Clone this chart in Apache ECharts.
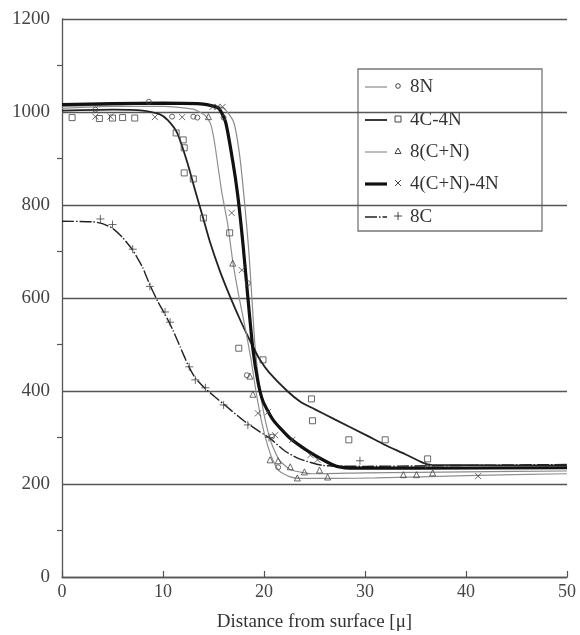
<!DOCTYPE html>
<html>
<head>
<meta charset="utf-8">
<script src="https://cdn.jsdelivr.net/npm/echarts@6/dist/echarts.min.js"></script>
<style>
  html, body { margin: 0; padding: 0; background: #fff; }
  #chart { width: 580px; height: 635px; }
</style>
</head>
<body>
<div id="chart"></div>
<script>
// Hardness profiles versus depth, fitted curves plus measured points
const xTicks = [0, 10, 20, 30, 40, 50];
const yTicks = [0, 200, 400, 600, 800, 1000, 1200];
const seriesNames = ['8N', '4C-4N', '8(C+N)', '4(C+N)-4N', '8C'];

const n8Curve = [[0,1012],[5,1015],[10,1018],[14,1016],[16,1008],[17,978],[17.6,905],[18.1,800],[18.5,700],[18.8,600],[19.1,500],[19.5,420],[20,350],[20.7,290],[21.5,252],[22.7,230],[25,222],[30,224],[40,226],[50,228]];
const n8Points = [[3.3,1005],[8.6,1022],[10.9,990],[13,990],[13.4,988],[16,988],[18.4,632],[18.3,434],[20.8,302],[21.4,236]];

const c4n4Curve = [[0,1003],[5,1005],[8,1003],[9.7,995],[10.5,982],[11.4,955],[12.4,892],[13.2,830],[14,770],[14.7,717],[15.6,660],[16.6,605],[17.7,550],[18.8,500],[19.6,467],[20.5,440],[22.3,400],[23.6,377],[25,361],[27,339],[30.2,304],[32,284],[34,264],[35.7,246],[36.6,241],[50,240]];
const c4n4Points = [[1,988],[3.7,986],[5,987],[6,988],[7.2,987],[11.3,955],[12,940],[12.1,923],[12.1,869],[13,856],[14,772],[16.6,740],[17.5,492],[19.9,467],[24.7,383],[24.8,336],[28.4,295],[32,295],[36.2,254]];

const cn8Curve = [[0,1008],[5,1012],[10,1012],[13,1006],[14.2,992],[14.7,975],[15.1,935],[15.8,830],[16.4,760],[16.9,680],[17.5,605],[18.1,540],[18.7,470],[19.2,400],[19.8,330],[20.4,280],[20.9,250],[21.5,228],[22.5,216],[23.6,212],[27.5,212],[31,213],[40,218],[50,222]];
const cn8Points = [[14.5,990],[16.9,675],[18.6,432],[18.9,393],[20.6,252],[21.4,250],[22.6,237],[23.3,213],[24,226],[25.5,230],[26.3,215],[33.8,220],[35.1,220],[36.7,224]];

const cn4n4Curve = [[0,1016],[5,1018],[10,1019],[14,1017],[15.5,1008],[16.2,978],[16.9,895],[17.4,821],[17.9,720],[18.4,602],[18.9,490],[19.4,420],[19.9,378],[20.9,338],[22.5,300],[24.2,273],[26,250],[27.2,238],[29,234],[35,234],[50,235]];
const cn4n4Points = [[3.3,990],[4.8,990],[9.2,989],[11.9,989],[14.9,1011],[15.4,1011],[15.9,1011],[16.8,783],[17.8,660],[19.4,352],[20.4,355],[21.1,305],[22.8,295],[24.6,262],[25.3,252],[41.2,217]];

const c8Curve = [[0,765],[3,764],[4,760],[5,750],[6,730],[7,703],[8,665],[8.7,628],[9.5,592],[10.2,565],[11,530],[11.7,495],[12.5,455],[13.2,428],[14.2,405],[16,372],[18,336],[19.6,312],[20.6,298],[22,272],[23.5,254],[25.8,240],[30,238],[40,240],[50,242]];
const c8Points = [[3.8,770],[5,758],[7,705],[8.7,625],[10.2,570],[10.7,548],[12.6,452],[13.2,424],[14.2,407],[16,370],[18.4,327],[20.5,300],[29.5,250],[36,240]];

const lineStyles = [
  { color: '#8a8a8a', width: 1.2, type: 'solid' },
  { color: '#222', width: 1.8, type: 'solid' },
  { color: '#8f8f8f', width: 1.2, type: 'solid' },
  { color: '#111', width: 3.2, type: 'solid' },
  { color: '#222', width: 1.4, type: [12, 2, 1.5, 2] }
];
const crossPath = 'path://M0,0L10,10M10,0L0,10';
const plusPath = 'path://M5,0L5,10M0,5L10,5';
const markers = [
  { symbol: 'circle', size: 5 },
  { symbol: 'rect', size: 6 },
  { symbol: 'triangle', size: 6 },
  { symbol: crossPath, size: 6 },
  { symbol: plusPath, size: 8 }
];
const curves = [n8Curve, c4n4Curve, cn8Curve, cn4n4Curve, c8Curve];
const points = [n8Points, c4n4Points, cn8Points, cn4n4Points, c8Points];

const serif = '"Liberation Serif", "DejaVu Serif", serif';
const textSize = 19;

const series = [];
seriesNames.forEach(function (name, i) {
  series.push({
    name: name,
    type: 'line',
    data: curves[i],
    smooth: 0.2,
    showSymbol: false,
    lineStyle: lineStyles[i],
    z: i === 3 ? 4 : 3,
    silent: true
  });
  series.push({
    name: name + ' pts',
    type: 'scatter',
    data: points[i],
    symbol: markers[i].symbol,
    symbolSize: markers[i].size,
    itemStyle: { color: 'rgba(255,255,255,0)', borderColor: '#444', borderWidth: 1 },
    z: 5,
    silent: true
  });
});

// Legend panel drawn with graphic elements: line sample, marker, label
const legendBox = { left: 358, top: 69, width: 184, height: 162 };
const rowY = [87, 120, 152, 184, 217];
const legendChildren = [{
  type: 'rect',
  shape: { x: legendBox.left, y: legendBox.top, width: legendBox.width, height: legendBox.height },
  style: { fill: '#fff', stroke: '#777', lineWidth: 1.3 }
}];
function markerShape(i, cx, cy) {
  const st = { fill: 'none', stroke: '#444', lineWidth: 1 };
  if (i === 0) return { type: 'circle', shape: { cx: cx, cy: cy, r: 2.3 }, style: st };
  if (i === 1) return { type: 'rect', shape: { x: cx - 3, y: cy - 3, width: 6, height: 6 }, style: st };
  if (i === 2) return { type: 'polygon', shape: { points: [[cx, cy - 3], [cx + 3, cy + 2.5], [cx - 3, cy + 2.5]] }, style: st };
  if (i === 3) return { type: 'polyline', shape: { points: [[cx - 3, cy - 3], [cx + 3, cy + 3]] }, style: st };
  return { type: 'polyline', shape: { points: [[cx, cy - 4], [cx, cy + 4]] }, style: st };
}
seriesNames.forEach(function (name, i) {
  const y = rowY[i];
  const ls = lineStyles[i];
  legendChildren.push({
    type: 'line',
    shape: { x1: 365, y1: y, x2: 387, y2: y },
    style: { stroke: ls.color, lineWidth: ls.width, lineDash: Array.isArray(ls.type) ? [12, 2, 1.5, 2] : null }
  });
  const cx = 398;
  legendChildren.push(markerShape(i, cx, y - 1));
  if (i === 3) {
    legendChildren.push({ type: 'polyline', shape: { points: [[cx + 3, y - 4], [cx - 3, y + 2]] }, style: { fill: 'none', stroke: '#444', lineWidth: 1 } });
  }
  if (i === 4) {
    legendChildren.push({ type: 'polyline', shape: { points: [[cx - 4, y - 1], [cx + 4, y - 1]] }, style: { fill: 'none', stroke: '#444', lineWidth: 1 } });
  }
  legendChildren.push({
    type: 'text',
    style: { x: 410, y: y, text: name, fill: '#333', font: textSize + 'px ' + serif, verticalAlign: 'middle', textAlign: 'left' }
  });
});

const chart = echarts.init(document.getElementById('chart'), null, { renderer: 'canvas' });
chart.setOption({
  animation: false,
  backgroundColor: '#fff',
  grid: { left: 62, right: 13, top: 19, bottom: 58, containLabel: false, outerBoundsMode: 'none' },
  xAxis: {
    type: 'value',
    min: xTicks[0],
    max: xTicks[xTicks.length - 1],
    interval: 10,
    name: 'Distance from surface [\u03bc]',
    nameLocation: 'middle',
    nameGap: 36,
    nameTextStyle: { fontFamily: serif, fontSize: textSize, color: '#333' },
    axisLine: { lineStyle: { color: '#555', width: 1.3 } },
    axisTick: { inside: true, length: 6, lineStyle: { color: '#555', width: 1.2 } },
    axisLabel: { fontFamily: serif, fontSize: 18, color: '#444', margin: 6, formatter: function (v) { return String(v); } },
    splitLine: { show: false }
  },
  yAxis: {
    type: 'value',
    min: yTicks[0],
    max: yTicks[yTicks.length - 1],
    interval: 200,
    axisLine: { show: true, lineStyle: { color: '#555', width: 1.3 } },
    axisTick: { show: false },
    minorTick: { show: true, splitNumber: 2, length: 5, lineStyle: { color: '#555', width: 1.2 } },
    axisLabel: { fontFamily: serif, fontSize: textSize, color: '#444', margin: 12, formatter: function (v) { return String(v); } },
    splitLine: { show: true, lineStyle: { color: '#555', width: 1.3 } }
  },
  series: series,
  graphic: [{ type: 'group', z: 100, children: legendChildren }]
});
</script>
</body>
</html>
